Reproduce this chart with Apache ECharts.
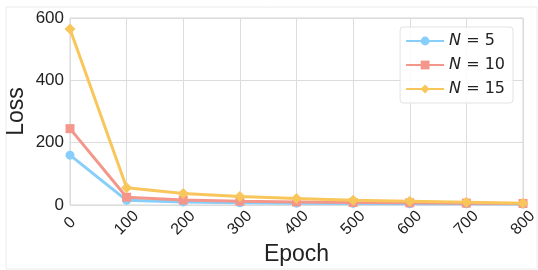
<!DOCTYPE html>
<html><head><meta charset="utf-8">
<script src="https://cdn.jsdelivr.net/npm/echarts@6/dist/echarts.min.js"></script>
<style>html,body{margin:0;padding:0;background:#fff}#c{width:538px;height:270px}</style>
</head><body><div id="c"></div>
<script>
const epochs = [0, 100, 200, 300, 400, 500, 600, 700, 800];
const lossN5 = [160, 15, 10, 7, 6, 5, 4, 4, 3];
const lossN10 = [245, 25, 16, 12, 10, 8, 7, 6, 5];
const lossN15 = [565, 55, 37, 27, 21, 15, 12, 9, 6];
const seriesNames = ['N = 5', 'N = 10', 'N = 15'];
const yTicks = [0, 200, 400, 600];

const colors = ['#87CEFA', '#F4968A', '#F8C65A'];
const symbols = ['circle', 'rect', 'diamond'];
const datas = [lossN5, lossN10, lossN15];

const chart = echarts.init(document.getElementById('c'));
const font = '"Liberation Sans", Arial, sans-serif';
chart.setOption({
  animation: false,
  backgroundColor: '#fff',
  grid: {left: 70, right: 15, top: 18, bottom: 65, show: true, borderColor: '#d4d4d4', borderWidth: 1, containLabel: false, outerBoundsMode: 'none'},
  graphic: [{type: 'rect', shape: {x: 6, y: 7, width: 531, height: 262}, style: {fill: 'none', stroke: '#ececec', lineWidth: 1}, silent: true}],
  legend: {
    right: 25, top: 27, orient: 'vertical', itemGap: 8,
    itemWidth: 38, itemHeight: 11,
    backgroundColor: 'rgba(255,255,255,0.85)', borderColor: '#e2e2e2', borderWidth: 1, borderRadius: 3,
    padding: [6, 8, 6, 5],
    data: seriesNames.map((n, i) => ({name: n})),
    formatter: function (name) { return '{i|N} = ' + name.split('= ')[1]; },
    textStyle: {fontFamily: '"DejaVu Sans"', fontSize: 16, color: '#222', rich: {i: {fontFamily: '"DejaVu Sans"', fontStyle: 'italic', fontSize: 16, color: '#222'}}}
  },
  xAxis: {
    type: 'value', min: 0, max: 800, interval: 100,
    name: 'Epoch', nameLocation: 'middle', nameGap: 38, nameMoveOverlap: false,
    nameTextStyle: {fontFamily: font, fontSize: 23, color: '#222'},
    axisLine: {show: false}, axisTick: {show: false},
    splitLine: {show: true, lineStyle: {color: '#dcdcdc', width: 1}},
    axisLabel: {rotate: 45, align: 'center', verticalAlign: 'middle', fontFamily: font, fontSize: 16, color: '#222', margin: 18}
  },
  yAxis: {
    type: 'value', min: 0, max: 600, interval: 200,
    name: 'Loss', nameLocation: 'middle', nameGap: 42, nameMoveOverlap: false,
    nameTextStyle: {fontFamily: font, fontSize: 23, color: '#222'},
    axisLine: {show: false}, axisTick: {show: false},
    splitLine: {show: true, lineStyle: {color: '#dcdcdc', width: 1}},
    axisLabel: {fontFamily: font, fontSize: 17, color: '#222', margin: 6}
  },
  series: datas.map((d, i) => ({
    name: seriesNames[i], type: 'line',
    data: d.map((v, j) => [epochs[j], v]),
    symbol: symbols[i], symbolSize: i === 2 ? 11 : 9, showSymbol: true,
    lineStyle: {width: 3, color: colors[i]},
    itemStyle: {color: colors[i]},
    z: 2 + i
  }))
});
</script></body></html>
